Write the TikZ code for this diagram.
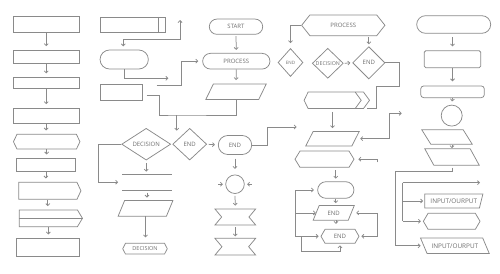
\documentclass[tikz,border=0pt]{standalone}
\usepackage{fontspec}
\setsansfont{Open Sans}
\usetikzlibrary{shapes.geometric,shapes.misc,shapes.symbols,arrows.meta}
\definecolor{linegray}{HTML}{8A8A8A}
\definecolor{txtgray}{HTML}{6E6E6E}
\begin{document}
\begin{tikzpicture}[x=1pt, y=-1pt,
    >={Straight Barb[length=2pt,width=4pt]},
    ln/.style={draw=linegray, line width=0.75pt},
    sz/.style 2 args={minimum width=#1pt, minimum height=#2pt},
    lbl/.style={font=\sffamily\fontsize{#1}{7}\selectfont, text=txtgray},
    lbl/.default=6,
    box/.style={ln, rectangle, inner sep=0pt},
    term/.style={ln, rounded rectangle, inner sep=0pt},
    diam/.style={ln, diamond, inner sep=0pt},
    hexa/.style={ln, signal, signal to=west and east, signal pointer angle=#1, inner sep=0pt},
    hexa/.default=120,
    pent/.style={ln, signal, signal to=east, signal pointer angle=#1, inner sep=0pt},
    bow/.style={ln, signal, signal from=west and east, signal to=nowhere, signal pointer angle=100, inner sep=0pt},
    par/.style={rectangle, inner sep=0pt},
  ]
  \useasboundingbox (0,0) rectangle (500,273);

  \node[box, sz={65.7}{15.6}] (a1) at (46.2,24.5) {};
  \node[box, sz={65.7}{13.3}] (a2) at (46.2,56.7) {};
  \node[box, sz={65.7}{11}] (a3) at (46.2,82.8) {};
  \node[box, sz={65.7}{15.3}] (a4) at (46.2,115.7) {};
  \node[hexa=129, sz={66.5}{14.7}] (a5) at (46.7,141.7) {};
  \node[box, sz={58.3}{13.3}] (a6) at (45.9,165) {};
  \node[pent=130, sz={62.3}{17}] (a7) at (47.8,190.8) {};
  \node[pent=118, sz={63.3}{16.7}] (a8) at (48.3,218.3) {};
  \node[box, sz={62.3}{17.7}] (a9) at (47.8,247.2) {};
  \draw[ln] (a8.west) -- (a8.east);
  \foreach \u/\v in {a1/a2,a2/a3,a3/a4,a4/a5,a5/a6,a6/a7,a7/a8,a8/a9}
    \draw[ln, ->, shorten >=3.5pt] (\u.south) -- (\u.south |- \v.north);

  \node[box, sz={65.7}{15}] (b1) at (132.8,24.8) {};
  \draw[ln] ([xshift=-7.4pt]b1.north east) -- ([xshift=-7.4pt]b1.south east);
  \node[term, sz={48.3}{19}] (b2) at (124.2,59.5) {};
  \node[box, sz={42.7}{16.4}] (b3) at (121.3,92.5) {};
  \coordinate (b1t) at (180,20);
  \coordinate (b2k) at (123.3,39.3);
  \draw[ln, <->, shorten >=3.3pt] (b1t) |- (b2k) -- (b2k |- b2.north);
  \coordinate (b2r) at (168.3,78.3);
  \draw[ln, ->] (b2.south) |- (b2r);

  \node[term, sz={53.4}{15.3}, lbl] (p1) at (236,26.7) {START};
  \node[term, sz={67.3}{15.7}, lbl] (p2) at (236.3,61.2) {PROCESS};
  \node[par, sz={60}{15}] (p3) at (236,91.8) {};
  \draw[ln, ->, shorten <=1.5pt, shorten >=3pt] (p1.south) -- (p2.north);
  \draw[ln, ->, shorten >=4pt] (p2.south) -- (p3.north);
  \coordinate (b3r) at (156.7,85);
  \draw[ln, ->, shorten >=4pt] (b3r) -- ++(25,0) |- (p2.west);

  \coordinate (b3s) at (146.7,95);
  \coordinate (j1) at (176.7,115);
  \draw[ln] (b3s) -- ++(12.6,0) |- (j1) -| (p3.south);
  \draw[ln, ->] (j1) -- ++(0,15.7);

  \node[diam, sz={49}{30.3}, lbl] (d1) at (146.2,144.2) {DECISION};
  \node[diam, sz={34}{31.7}, lbl] (d2) at (189.7,144.2) {END};
  \node[sz={49.4}{15.7}, inner sep=0pt] (l1) at (147,182.2) {};
  \draw[ln] (l1.north west) -- (l1.north east) (l1.south west) -- (l1.south east);
  \draw[ln, ->, shorten >=4pt] (d1.west) -- ++(-23.4,0) |- (l1.west);
  \draw[ln, ->, shorten <=3pt, shorten >=2.5pt] (d1.south) -- (d1.south |- l1.north);
  \node[par, sz={54.4}{15.3}] (q1) at (145.5,208.4) {};
  \draw[ln, ->, shorten <=2.3pt, shorten >=3pt] (l1.south) -- (l1.south |- q1.north);
  \node[hexa=125, sz={44.6}{10.7}, lbl=5.5] (h1) at (145,248.7) {DECISION};
  \draw[ln, ->, shorten >=5.6pt] (q1.south) -- (q1.south |- h1.north);

  \node[term, sz={33.4}{19}, lbl] (e1) at (235,145) {END};
  \draw[ln, ->, shorten <=1.5pt, shorten >=3pt] (d2.east) -- (e1.west);
  \coordinate (e1r) at (296.7,127);
  \draw[ln, ->] (e1.east) -- ++(15,0) |- (e1r);
  \node[ln, circle, minimum size=18.6pt, inner sep=0pt] (k1) at (235,184.2) {};
  \draw[ln, ->, shorten <=3.8pt, shorten >=5.6pt] (e1.south) -- (k1.north);
  \coordinate (k1l) at (218.3,184.2);
  \coordinate (k1r) at (251.7,184.2);
  \draw[ln, ->, shorten >=2.4pt] (k1l) -- (k1.west);
  \draw[ln, ->, shorten >=2.4pt] (k1r) -- (k1.east);
  \node[bow, sz={40.7}{16}] (w1) at (235.3,217) {};
  \node[bow, sz={40.7}{16.7}] (w2) at (235.3,246.7) {};
  \draw[ln, ->, shorten <=2pt, shorten >=3pt] (k1.south) -- (w1.north);
  \draw[ln, ->, shorten <=2pt, shorten >=1.6pt] (w1.south) -- (w2.north);

  \node[hexa=103, sz={83.3}{20.7}, lbl] (hx1) at (343.3,25.3) {PROCESS};
  \node[diam, sz={25}{28}, lbl=4.5] (d3) at (290.5,62.5) {END};
  \node[diam, sz={31}{30}, lbl=5.3] (d4) at (327.8,63.3) {DECISION};
  \node[diam, sz={32.3}{32.3}, lbl] (d5) at (368.8,62.8) {END};
  \draw[ln, ->, shorten >=5pt] (hx1.west) -| (d3.north);
  \draw[ln, ->, shorten <=1pt, shorten >=2pt] (d4.east) -- (d5.west);
  \draw[ln, ->, shorten <=1pt, shorten >=2pt] (hx1.south -| d5.north) -- (d5.north);

  \node[sz={65}{16}, inner sep=0pt] (ch1) at (336.8,100.3) {};
  \draw[ln] (ch1.west) -- ([xshift=4pt]ch1.north west) -- ([xshift=-6pt]ch1.north east) -- (ch1.east)
    -- ([xshift=-6pt]ch1.south east) -- ([xshift=4pt]ch1.south west) -- cycle;
  \draw[ln] ([xshift=-14.3pt]ch1.north east) -- ([xshift=-8.3pt]ch1.east) -- ([xshift=-14.3pt]ch1.south east);
  \coordinate (j2) at (399.3,86.7);
  \coordinate (j3) at (376.7,86.7);
  \draw[ln] (d5.east) -| (j2) -- (j3) |- ([xshift=-3pt]ch1.south east);

  \node[par, sz={53}{14}] (par2) at (332.5,138.7) {};
  \draw[ln, ->, shorten <=3.4pt, shorten >=3.4pt] (par2.north |- ch1.south) -- (par2.north);
  \coordinate (c6) at (401.7,113.3);
  \draw[ln, <->, shorten >=1pt] (c6) -- ++(-12.4,0) |- (par2.east);
  \node[hexa=117, sz={59}{16.3}] (hx2) at (324.5,159.2) {};
  \coordinate (c7) at (377.7,162.3);
  \draw[ln, ->, shorten >=4pt] (c7) |- (hx2.east);
  \node[term, sz={36.3}{16.6}] (t1) at (335.8,190) {};
  \draw[ln, ->, shorten <=2.7pt, shorten >=2.7pt] (t1.north |- hx2.south) -- (t1.north);
  \node[par, sz={40.7}{14.3}, lbl] (par3) at (333.7,212.9) {END};
  \draw[ln, ->, shorten >=2.4pt] (t1.south) -- (t1.south |- par3.north);
  \node[hexa=120, sz={38}{14}, lbl] (hx3) at (340,236.3) {END};
  \draw[ln, ->, shorten >=5pt] ([xshift=2.3pt]par3.south) -- ([xshift=2.3pt]par3.south |- hx3.north);
  \coordinate (L1) at (295,190);
  \coordinate (L3) at (301.7,236.3);
  \coordinate (R1) at (377.7,212.9);
  \draw[ln] (L1) -- (L1 |- hx3.west);
  \draw[ln, ->, shorten >=3.4pt] (L1) -- (t1.west);
  \draw[ln, ->] (L1 |- par3.west) -- ([xshift=2.7pt]par3.west);
  \draw[ln, ->, shorten >=2pt] (L1 |- hx3.west) -- (hx3.west);
  \draw[ln, ->, shorten >=1.7pt] (L3) -- ++(0,15.4) -| (hx3.south);
  \draw[ln] (R1) -- (R1 |- hx3.east);
  \draw[ln, ->, shorten >=2pt] (R1) -- (par3.east);
  \draw[ln, ->, shorten >=2pt] (R1 |- hx3.east) -- (hx3.east);

  \node[term, sz={74}{17.6}] (r1) at (453.7,24.5) {};
  \node[box, rounded corners=1.5pt, sz={56.4}{17}] (r2) at (452.5,59.2) {};
  \node[box, rounded corners=3pt, sz={63.6}{11.7}] (r3) at (452.5,91.8) {};
  \node[ln, circle, minimum size=21pt, inner sep=0pt] (r4) at (451.7,115.6) {};
  \node[par, sz={50}{14}] (r5) at (447,137) {};
  \node[par, sz={54}{16}] (r6) at (452,157) {};
  \draw[ln, ->, shorten <=3.4pt, shorten >=4pt] (r1.south -| r2.north) -- (r2.north);
  \draw[ln, ->, shorten >=4.3pt] (r2.south) -- (r3.north);
  \draw[ln, ->, shorten >=3.3pt] (r3.south) -- (r4.north);
  \draw[ln, ->, shorten <=1pt, shorten >=0.7pt] (r5.south -| r6.north) -- (r6.north);

  \node[par, sz={57.7}{13.4}, lbl=6.4] (io1) at (453.8,201) {INPUT/OURPUT};
  \node[hexa=119, sz={56.7}{16}] (hx4) at (451.7,221.3) {};
  \node[par, sz={68.3}{15}, lbl=6.4] (io2) at (454.9,245.8) {INPUT/OURPUT};
  \coordinate (R6k) at (395,171.7);
  \draw[ln, ->, shorten <=2.3pt] (r6.south) |- (R6k) |- (io2.west);
  \coordinate (I1) at (402.7,182.7);
  \coordinate (I2) at (480,182.7);
  \draw[ln, ->] (I1) -- (I2);
  \draw[ln] (I1) -- (I1 |- hx4.west);
  \draw[ln, ->, shorten >=1.7pt] (I1 |- io1.west) -- (io1.west);
  \draw[ln, ->, shorten >=2pt] (I1 |- hx4.west) -- (hx4.west);

  \foreach \n/\a/\b/\c/\d in {p3/7.5/0/7.5/0, q1/6.5/0/6.5/0, par2/7.3/0/7.3/0, par3/6/0/6/0,
      r5/0/9/0/9, r6/0/9/0/9, io1/0/0/3.4/0, io2/0/6.5/0/6.5}
    \draw[ln] ([xshift=\a pt]\n.north west) -- ([xshift=-\b pt]\n.north east)
      -- ([xshift=-\c pt]\n.south east) -- ([xshift=\d pt]\n.south west) -- cycle;
\end{tikzpicture}
\end{document}
